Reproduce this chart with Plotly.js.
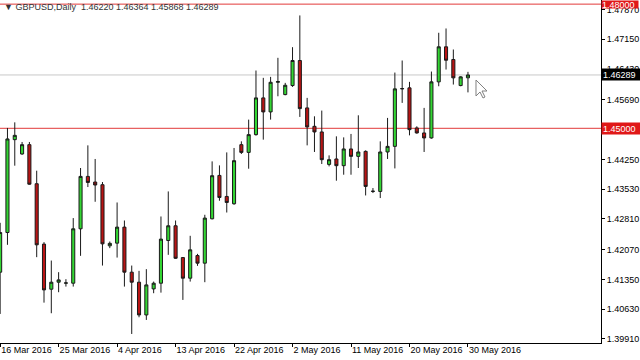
<!DOCTYPE html>
<html>
<head>
<meta charset="utf-8">
<script src="https://cdn.plot.ly/plotly-3.0.1.min.js"></script>
<style>html,body{margin:0;padding:0;background:#fff;}#chart{width:640px;height:360px;}</style>
</head>
<body>
<div id="chart"></div>
<script>
// Daily bars (broker includes Sunday bars)
const dates = [
 '2016-03-16','2016-03-17','2016-03-18','2016-03-20','2016-03-21','2016-03-22','2016-03-23','2016-03-24','2016-03-25',
 '2016-03-27','2016-03-28','2016-03-29','2016-03-30','2016-03-31','2016-04-01','2016-04-03','2016-04-04',
 '2016-04-05','2016-04-06','2016-04-07','2016-04-08','2016-04-10','2016-04-11','2016-04-12','2016-04-13',
 '2016-04-14','2016-04-15','2016-04-17','2016-04-18','2016-04-19','2016-04-20','2016-04-21','2016-04-22',
 '2016-04-24','2016-04-25','2016-04-26','2016-04-27','2016-04-28','2016-04-29','2016-05-01','2016-05-02',
 '2016-05-03','2016-05-04','2016-05-05','2016-05-06','2016-05-08','2016-05-09','2016-05-10','2016-05-11',
 '2016-05-12','2016-05-13','2016-05-15','2016-05-16','2016-05-17','2016-05-18','2016-05-19','2016-05-20',
 '2016-05-22','2016-05-23','2016-05-24','2016-05-25','2016-05-26','2016-05-27','2016-05-29','2016-05-30'
];
const open = [
 1.41524,1.42482,1.44726,1.44380,1.44605,1.43661,1.42202,1.41113,1.41282,
 1.41258,1.41258,1.42572,1.43838,1.43702,1.43637,1.42161,1.42226,
 1.42613,1.41524,1.41282,1.40491,1.41120,1.41258,1.42289,1.42645,
 1.41877,1.41379,1.41926,1.41742,1.42814,1.43862,1.43354,1.43177,
 1.44605,1.44418,1.44847,1.45735,1.45396,1.46112,1.45815,1.46033,
 1.46638,1.45493,1.45048,1.44912,1.44128,1.44259,1.44097,1.44501,
 1.44322,1.44443,1.43475,1.43475,1.44428,1.44564,1.45953,1.45977,
 1.45009,1.44888,1.44767,1.46122,1.46969,1.46662,1.46033,1.46220
];
const high = [
 1.42717,1.45009,1.45144,1.44670,1.44670,1.43976,1.42250,1.41805,1.41524,
 1.41355,1.42831,1.44041,1.44588,1.44259,1.43702,1.42265,1.43208,
 1.42773,1.41684,1.41556,1.41597,1.41297,1.42870,1.43475,1.42773,
 1.41890,1.42403,1.41967,1.42911,1.44201,1.44104,1.44418,1.44525,
 1.44685,1.45210,1.46396,1.46219,1.46243,1.46703,1.46098,1.46960,
 1.47727,1.45735,1.45290,1.45428,1.44346,1.44806,1.44781,1.44864,
 1.45314,1.44467,1.43557,1.44685,1.45251,1.46347,1.46638,1.46122,
 1.45048,1.45493,1.46371,1.47308,1.47412,1.46904,1.46258,1.46364
];
const low = [
 1.40515,1.42185,1.44097,1.44360,1.43637,1.41887,1.40788,1.40532,1.41040,
 1.41176,1.41176,1.41919,1.43581,1.43225,1.41684,1.42105,1.41877,
 1.41176,1.40031,1.40435,1.40370,1.41016,1.41030,1.41943,1.41846,
 1.40854,1.41297,1.41677,1.41282,1.42800,1.43250,1.42966,1.43153,
 1.44380,1.44024,1.44823,1.44726,1.45210,1.45774,1.45798,1.46001,
 1.45275,1.44588,1.44428,1.44138,1.44080,1.43734,1.43879,1.43879,
 1.44041,1.43378,1.43436,1.43315,1.44259,1.44031,1.45614,1.44830,
 1.44871,1.44428,1.44750,1.46016,1.46420,1.46057,1.46016,1.45868
];
const close = [
 1.42482,1.44743,1.44830,1.44605,1.43650,1.42185,1.41096,1.41282,1.41338,
 1.41265,1.42572,1.43838,1.43692,1.43630,1.42209,1.42221,1.42613,
 1.41524,1.41282,1.40491,1.41217,1.41258,1.42323,1.42645,1.41860,
 1.41379,1.42064,1.41742,1.42831,1.43855,1.43329,1.43208,1.44218,
 1.44418,1.44847,1.45735,1.45396,1.46112,1.46129,1.46040,1.46638,
 1.45476,1.45033,1.44912,1.44242,1.44242,1.44097,1.44501,1.44322,
 1.44428,1.43596,1.43480,1.44428,1.44564,1.45953,1.45960,1.44968,
 1.44888,1.44767,1.46122,1.46969,1.46645,1.46219,1.46243,1.46289
];
const xTickDates = ['2016-03-16','2016-03-25','2016-04-04','2016-04-13','2016-04-22','2016-05-02','2016-05-11','2016-05-20','2016-05-30'];
const xTickText  = ['16 Mar 2016','25 Mar 2016','4 Apr 2016','13 Apr 2016','22 Apr 2016','2 May 2016','11 May 2016','20 May 2016','30 May 2016'];
const yTickVals  = [1.39910,1.40630,1.41350,1.42070,1.42810,1.43530,1.44250,1.45690,1.46430,1.47150,1.47870];
const yTickText  = ['1.39910','1.40630','1.41350','1.42070','1.42810','1.43530','1.44250','1.45690','1.46430','1.47150','1.47870'];
const resistance = 1.48000;
const support = 1.45000;
const bid = 1.46289;
const header = '\u25BC GBPUSD,Daily\u00a0\u00a01.46220 1.46364 1.45868 1.46289';

const font = 'Liberation Sans, Arial, sans-serif';

const trace = {
  type: 'candlestick',
  x: dates, open: open, high: high, low: low, close: close,
  increasing: {fillcolor: '#33d633', line: {color: '#1a1a1a', width: 1}},
  decreasing: {fillcolor: '#b81414', line: {color: '#1a1a1a', width: 1}},
  whiskerwidth: 0,
  hoverinfo: 'skip',
  showlegend: false
};

const layout = {
  width: 640, height: 360,
  margin: {l: 0, r: 39, t: 0, b: 17},
  paper_bgcolor: '#ffffff', plot_bgcolor: '#ffffff',
  boxgap: 0.4,
  showlegend: false,
  xaxis: {
    type: 'category',
    range: [-0.02, 82.2],
    rangeslider: {visible: false},
    showgrid: false, zeroline: false,
    showline: true, linecolor: '#000', linewidth: 1,
    ticks: 'outside', ticklen: 3, tickcolor: '#000',
    tickmode: 'array', tickvals: xTickDates, ticktext: xTickText,
    tickangle: 0,
    ticklabelposition: 'outside right',
    ticklabelstandoff: -2,
    tickfont: {family: font, size: 9, color: '#000'},
    fixedrange: true
  },
  yaxis: {
    side: 'right',
    range: [1.39813, 1.48100],
    showgrid: false, zeroline: false,
    showline: true, linecolor: '#000', linewidth: 1,
    ticks: 'outside', ticklen: 3, tickcolor: '#000',
    tickmode: 'array', tickvals: yTickVals, ticktext: yTickText,
    tickfont: {family: font, size: 9, color: '#000'},
    fixedrange: true
  },
  shapes: [
    {type: 'line', xref: 'paper', x0: 0, x1: 1, yref: 'y', y0: bid, y1: bid, line: {color: '#c8c8c8', width: 1}, layer: 'below'},
    {type: 'line', xref: 'paper', x0: 0, x1: 1, yref: 'y', y0: support, y1: support, line: {color: '#e23a3a', width: 1}, layer: 'below'},
    {type: 'line', xref: 'paper', x0: 0, x1: 1, yref: 'y', y0: resistance, y1: resistance, line: {color: '#e23a3a', width: 1}, layer: 'below'},
    {type: 'path', xref: 'paper', yref: 'paper',
     path: 'M 0.79201 0.76676 L 0.79201 0.72012 L 0.79867 0.73178 L 0.80366 0.71429 L 0.80699 0.71720 L 0.80200 0.73469 L 0.81032 0.73469 Z',
     fillcolor: '#ffffff', line: {color: '#808080', width: 1}, layer: 'above'}
  ],
  annotations: [
    {xref: 'paper', x: 0.003, yref: 'paper', y: 1 - 7/343, xanchor: 'left', yanchor: 'middle', showarrow: false,
     text: header, font: {family: font, size: 9, color: '#333'}},
    {xref: 'paper', x: 1, yref: 'y', y: bid, xanchor: 'left', yanchor: 'middle', showarrow: false,
     text: bid.toFixed(5), bgcolor: '#000000', font: {family: font, size: 9, color: '#ffffff'}, width: 36, height: 9, borderpad: 1, align: 'left'},
    {xref: 'paper', x: 1, yref: 'y', y: support, xanchor: 'left', yanchor: 'middle', showarrow: false,
     text: support.toFixed(5), bgcolor: '#e01818', font: {family: font, size: 9, color: '#ffffff'}, width: 36, height: 9, borderpad: 1, align: 'left'},
    {xref: 'paper', x: 1, yref: 'paper', y: 1, xanchor: 'left', yanchor: 'top', showarrow: false,
     text: resistance.toFixed(5), bgcolor: '#e01818', font: {family: font, size: 9, color: '#ffffff'}, width: 36, height: 7, borderpad: 0, align: 'left'}
  ]
};

Plotly.newPlot('chart', [trace], layout, {staticPlot: true, displayModeBar: false});
</script>
</body>
</html>
